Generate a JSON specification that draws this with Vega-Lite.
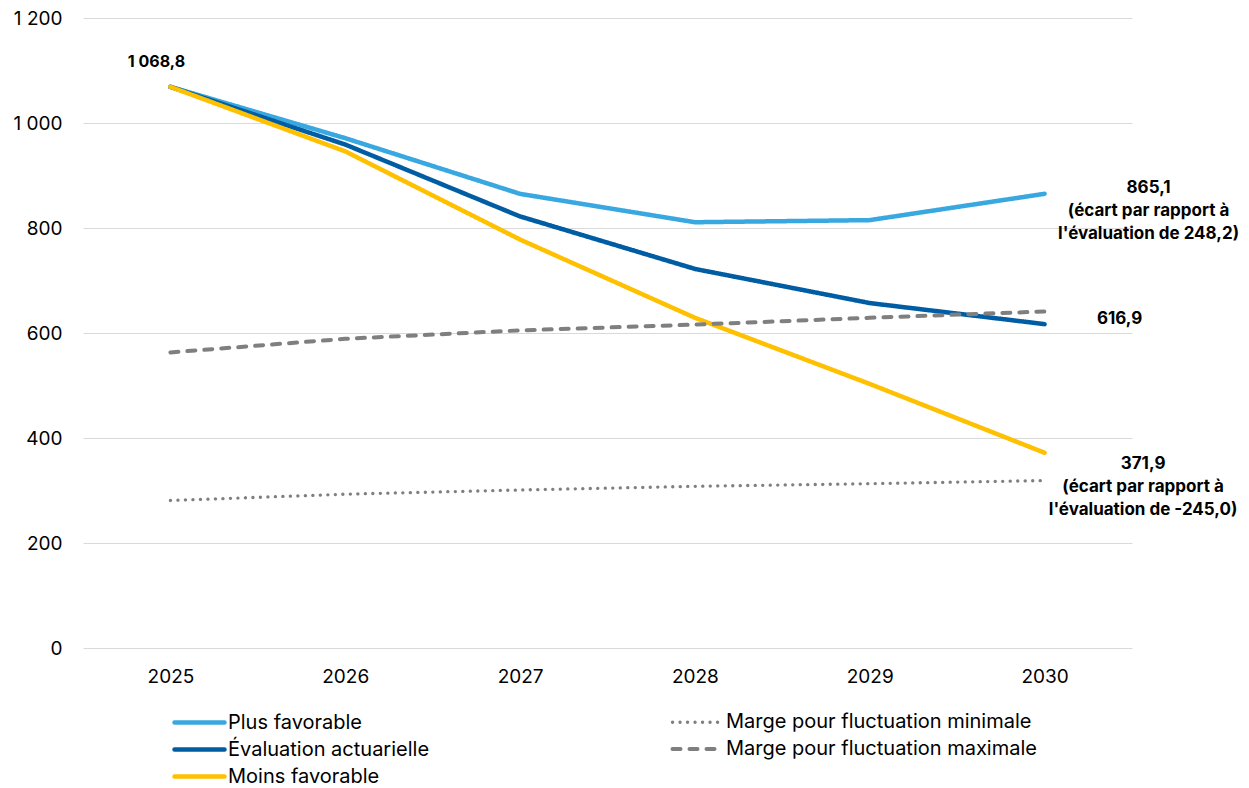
{
  "$schema": "https://vega.github.io/schema/vega-lite/v6.json",
  "width": 1049,
  "height": 630,
  "autosize": "none",
  "padding": {"left": 83, "top": 18, "right": 117, "bottom": 140},
  "background": "white",
  "config": {
    "view": {"stroke": null},
    "font": "Inter",
    "axis": {"labelFont": "Inter", "labelFontSize": 19, "labelColor": "#000000", "domain": false, "ticks": false, "gridColor": "#D9D9D9", "gridWidth": 1.2},
    "legend": {"labelFont": "Inter", "labelFontSize": 20, "labelColor": "#000000"}
  },
  "datasets": {
    "series": [
      {"year": "2025", "series": "Plus favorable", "value": 1068.8},
      {"year": "2026", "series": "Plus favorable", "value": 971},
      {"year": "2027", "series": "Plus favorable", "value": 865},
      {"year": "2028", "series": "Plus favorable", "value": 811},
      {"year": "2029", "series": "Plus favorable", "value": 815},
      {"year": "2030", "series": "Plus favorable", "value": 865.1},
      {"year": "2025", "series": "Évaluation actuarielle", "value": 1068.8},
      {"year": "2026", "series": "Évaluation actuarielle", "value": 959},
      {"year": "2027", "series": "Évaluation actuarielle", "value": 822},
      {"year": "2028", "series": "Évaluation actuarielle", "value": 722},
      {"year": "2029", "series": "Évaluation actuarielle", "value": 657},
      {"year": "2030", "series": "Évaluation actuarielle", "value": 616.9},
      {"year": "2025", "series": "Moins favorable", "value": 1068.8},
      {"year": "2026", "series": "Moins favorable", "value": 946},
      {"year": "2027", "series": "Moins favorable", "value": 778},
      {"year": "2028", "series": "Moins favorable", "value": 629},
      {"year": "2029", "series": "Moins favorable", "value": 503},
      {"year": "2030", "series": "Moins favorable", "value": 371.9},
      {"year": "2025", "series": "Marge pour fluctuation minimale", "value": 281},
      {"year": "2026", "series": "Marge pour fluctuation minimale", "value": 293},
      {"year": "2027", "series": "Marge pour fluctuation minimale", "value": 301},
      {"year": "2028", "series": "Marge pour fluctuation minimale", "value": 308},
      {"year": "2029", "series": "Marge pour fluctuation minimale", "value": 313},
      {"year": "2030", "series": "Marge pour fluctuation minimale", "value": 319},
      {"year": "2025", "series": "Marge pour fluctuation maximale", "value": 563},
      {"year": "2026", "series": "Marge pour fluctuation maximale", "value": 589},
      {"year": "2027", "series": "Marge pour fluctuation maximale", "value": 605},
      {"year": "2028", "series": "Marge pour fluctuation maximale", "value": 616},
      {"year": "2029", "series": "Marge pour fluctuation maximale", "value": 629},
      {"year": "2030", "series": "Marge pour fluctuation maximale", "value": 641}
    ]
  },
  "encoding": {
    "x": {"field": "year", "type": "ordinal", "scale": {"type": "point", "padding": 0.5}, "axis": {"title": null, "labelAngle": 0, "labelPadding": 19, "grid": false}},
    "y": {"field": "value", "type": "quantitative", "scale": {"domain": [0, 1200]}, "axis": {"title": null, "values": [0, 200, 400, 600, 800, 1000, 1200], "labelPadding": 21, "labelExpr": "replace(format(datum.value, ','), ',', ' ')"}}
  },
  "layer": [
    {
      "data": {"name": "series"},
      "mark": {"type": "line", "strokeCap": "round", "strokeJoin": "round"},
      "encoding": {
        "color": {"field": "series", "type": "nominal",
          "scale": {"domain": ["Plus favorable", "Évaluation actuarielle", "Moins favorable", "Marge pour fluctuation minimale", "Marge pour fluctuation maximale"],
                    "range": ["#3AA8E0", "#005DA4", "#FFC000", "#7F7F7F", "#7F7F7F"]},
          "legend": {"title": null, "orient": "none", "legendX": 101.5, "legendY": 689.5, "columns": 2, "direction": "vertical", "columnPadding": 235, "rowPadding": 2, "symbolType": "M-2,0H2", "symbolSize": 625, "labelOffset": 13.5, "labelLimit": 500, "padding": 0,
            "encode": {"symbols": {"update": {"strokeCap": {"value": "round"}}}}}},
        "strokeDash": {"field": "series", "type": "nominal",
          "scale": {"domain": ["Plus favorable", "Évaluation actuarielle", "Moins favorable", "Marge pour fluctuation minimale", "Marge pour fluctuation maximale"],
                    "range": [[1, 0], [1, 0], [1, 0], [0.1, 7.4], [8, 9]]}},
        "strokeWidth": {"field": "series", "type": "nominal",
          "scale": {"type": "ordinal", "domain": ["Plus favorable", "Évaluation actuarielle", "Moins favorable", "Marge pour fluctuation minimale", "Marge pour fluctuation maximale"],
                    "range": [4.5, 4.5, 4.5, 3.3, 4]}}
      }
    },
    {
      "data": {"values": [{"year": "2025", "value": 1068.8, "label": "1 068,8"}]},
      "mark": {"type": "text", "font": "Inter", "fontWeight": "bold", "fontSize": 16, "align": "center", "baseline": "alphabetic", "dx": -14, "dy": -20},
      "encoding": {"text": {"field": "label"}}
    },
    {
      "data": {"values": [{"year": "2030", "value": 865.1, "label": "865,1\n(écart par rapport à\nl'évaluation de 248,2)"}]},
      "mark": {"type": "text", "font": "Inter", "fontWeight": "bold", "fontSize": 17, "align": "center", "baseline": "alphabetic", "lineBreak": "\n", "lineHeight": 23, "dx": 104, "dy": -1},
      "encoding": {"text": {"field": "label"}}
    },
    {
      "data": {"values": [{"year": "2030", "value": 616.9, "label": "616,9"}]},
      "mark": {"type": "text", "font": "Inter", "fontWeight": "bold", "fontSize": 17, "align": "center", "baseline": "alphabetic", "dx": 75, "dy": 0},
      "encoding": {"text": {"field": "label"}}
    },
    {
      "data": {"values": [{"year": "2030", "value": 371.9, "label": "371,9\n(écart par rapport à\nl'évaluation de -245,0)"}]},
      "mark": {"type": "text", "font": "Inter", "fontWeight": "bold", "fontSize": 17, "align": "center", "baseline": "alphabetic", "lineBreak": "\n", "lineHeight": 23, "dx": 98.5, "dy": 16},
      "encoding": {"text": {"field": "label"}}
    }
  ]
}
